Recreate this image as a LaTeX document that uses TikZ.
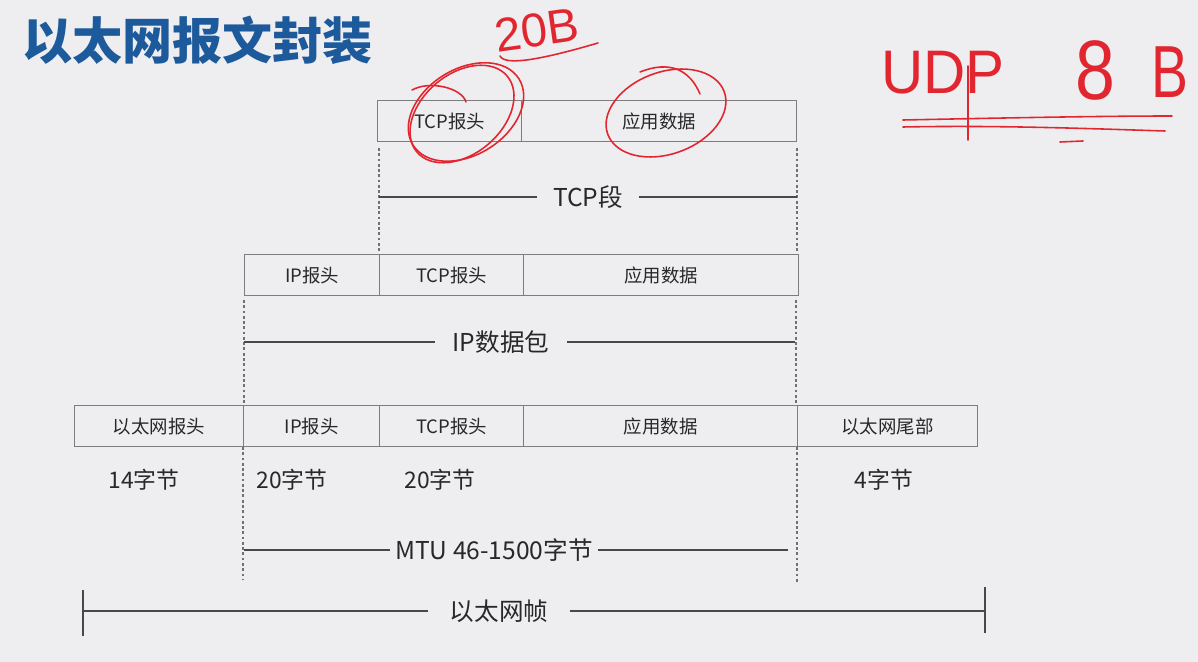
\documentclass[tikz,border=0pt]{standalone}
\usepackage{fontspec}
\newfontfamily\cjk{Noto Sans CJK SC}
\newfontfamily\hand{Liberation Sans}
\definecolor{bg}{RGB}{238,237,240}
\definecolor{titleblue}{RGB}{28,90,155}
\definecolor{txt}{RGB}{40,40,40}
\definecolor{boxline}{RGB}{125,125,125}
\definecolor{ink}{RGB}{226,38,48}
\tikzset{
  cell/.style={draw=boxline, line width=0.7pt, inner sep=0pt, anchor=north west,
    minimum height=0.82cm, text=txt, font=\cjk\fontsize{10.5}{12}\selectfont},
  guide/.style={draw=boxline!90!black, line width=0.7pt, dash pattern=on 1.6pt off 1.4pt},
  dimline/.style={draw=txt!85, line width=0.9pt},
  dimlabel/.style={text=txt, font=\cjk\fontsize{14}{16}\selectfont, inner xsep=7pt, inner ysep=0pt},
  bytelabel/.style={text=txt, font=\cjk\fontsize{13}{15}\selectfont, inner sep=0pt},
  red ink/.style={draw=ink, line width=0.9pt, line cap=round, line join=round},
  handtext/.style={text=ink, inner sep=0pt},
}
\begin{document}
\begin{tikzpicture}[x=0.02cm,y=-0.02cm]
\fill[bg] (0,0) rectangle (1198,662);
\useasboundingbox (0,0) rectangle (1198,662);

% title
\node[text=titleblue, font=\cjk\bfseries\fontsize{28.5}{32}\selectfont, anchor=west, inner sep=0pt] (title) at (22,40) {以太网报文封装};

% row 1: TCP segment
\node[cell, minimum width=2.88cm] (t1) at (377,100) {TCP报头};
\node[cell, minimum width=5.5cm] (t2) at (521,100) {应用数据};

% row 2: IP datagram
\node[cell, minimum width=2.70cm] (i1) at (244,254) {IP报头};
\node[cell, minimum width=2.88cm] (i2) at (379,254) {TCP报头};
\node[cell, minimum width=5.5cm] (i3) at (523,254) {应用数据};

% row 3: Ethernet frame
\node[cell, minimum width=3.38cm] (e1) at (74,405) {以太网报头};
\node[cell, minimum width=2.72cm] (e2) at (243,405) {IP报头};
\node[cell, minimum width=2.88cm] (e3) at (379,405) {TCP报头};
\node[cell, minimum width=5.48cm] (e4) at (523,405) {应用数据};
\node[cell, minimum width=3.6cm] (e5) at (797,405) {以太网尾部};

% guides row1 -> row2
\coordinate (g1a) at (379,148);
\coordinate (g1b) at (379,253);
\coordinate (g2a) at (797,148);
\coordinate (g2b) at (797,253);
\draw[guide] (g1a) -- (g1b);
\draw[guide] (g2a) -- (g2b);
% guides row2 -> row3
\coordinate (g3a) at (244,300);
\coordinate (g3b) at (244,404);
\coordinate (g4a) at (796,300);
\coordinate (g4b) at (796,404);
\draw[guide] (g3a) -- (g3b);
\draw[guide] (g4a) -- (g4b);
% guides below row3
\coordinate (g5a) at (243,447);
\coordinate (g5b) at (243,580);
\coordinate (g6a) at (797,447);
\coordinate (g6b) at (797,584);
\draw[guide] (g5a) -- (g5b);
\draw[guide] (g6a) -- (g6b);

% TCP segment dimension
\coordinate (d1a) at (379,197);
\coordinate (d1b) at (797,197);
\node[dimlabel, inner xsep=9pt] (d1) at (588,197) {TCP段};
\draw[dimline] (d1a) -- (d1.west);
\draw[dimline] (d1.east) -- (d1b);

% IP datagram dimension
\coordinate (d2a) at (244,342);
\coordinate (d2b) at (795,342);
\node[dimlabel, inner xsep=10pt] (d2) at (501,342) {IP数据包};
\draw[dimline] (d2a) -- (d2.west);
\draw[dimline] (d2.east) -- (d2b);

% byte labels
\node[bytelabel] (b1) at (144,480) {14字节};
\node[bytelabel] (b2) at (292,480) {20字节};
\node[bytelabel] (b3) at (440,480) {20字节};
\node[bytelabel] (b4) at (884,480) {4字节};

% MTU dimension
\coordinate (d3a) at (244,550);
\coordinate (d3b) at (788,550);
\node[dimlabel, inner xsep=3pt] (d3) at (494,550) {MTU 46-1500字节};
\draw[dimline] (d3a) -- (d3.west);
\draw[dimline] (d3.east) -- (d3b);

% Ethernet frame dimension
\coordinate (d4a) at (83,611);
\coordinate (d4b) at (985,611);
\coordinate (t4a) at (83,590);
\coordinate (t4b) at (83,636);
\coordinate (t4c) at (985,587);
\coordinate (t4d) at (985,633);
\node[dimlabel, inner xsep=12pt] (d4) at (499,611) {以太网帧};
\draw[dimline] (d4a) -- (d4.west);
\draw[dimline] (d4.east) -- (d4b);
\draw[dimline] (t4a) -- (t4b);
\draw[dimline] (t4c) -- (t4d);

% red handwritten annotations
\node[handtext, font=\hand\fontsize{27}{27}\selectfont, rotate=8] (h20b) at (537,30) {20B};
\draw[red ink] (500,56) .. controls (505,66) and (540,60) .. (598,43);

\draw[red ink, rotate around={32:(466,112)}] (466,112) ellipse [x radius=1.25cm, y radius=0.86cm];
\draw[red ink, rotate around={40:(462,114)}] (462,114) ellipse [x radius=1.18cm, y radius=0.80cm];
\draw[red ink] (412,90) .. controls (430,80) and (462,88) .. (466,102);

\draw[red ink, rotate around={20:(666,113)}] (666,113) ellipse [x radius=1.24cm, y radius=0.82cm];
\draw[red ink] (700,94) .. controls (690,70) and (670,60) .. (640,72);

\node[handtext, font=\hand\fontsize{35}{35}\selectfont, xscale=0.95] (hudp) at (943,73) {UDP};
\node[handtext, font=\hand\fontsize{48}{48}\selectfont, xscale=0.85] (h8) at (1095,70) {8};
\node[handtext, font=\hand\fontsize{42}{42}\selectfont, xscale=0.75] (hb) at (1170,72) {B};
\coordinate (p1) at (968,66);
\coordinate (p2) at (968,140);
\draw[red ink] (p1) -- (p2);
\draw[red ink] (903,120) .. controls (1000,118) and (1100,116) .. (1172,116);
\draw[red ink] (903,127) .. controls (1000,125) and (1100,129) .. (1165,131);
\draw[red ink] (1060,142) -- (1083,141);
\end{tikzpicture}
\end{document}
